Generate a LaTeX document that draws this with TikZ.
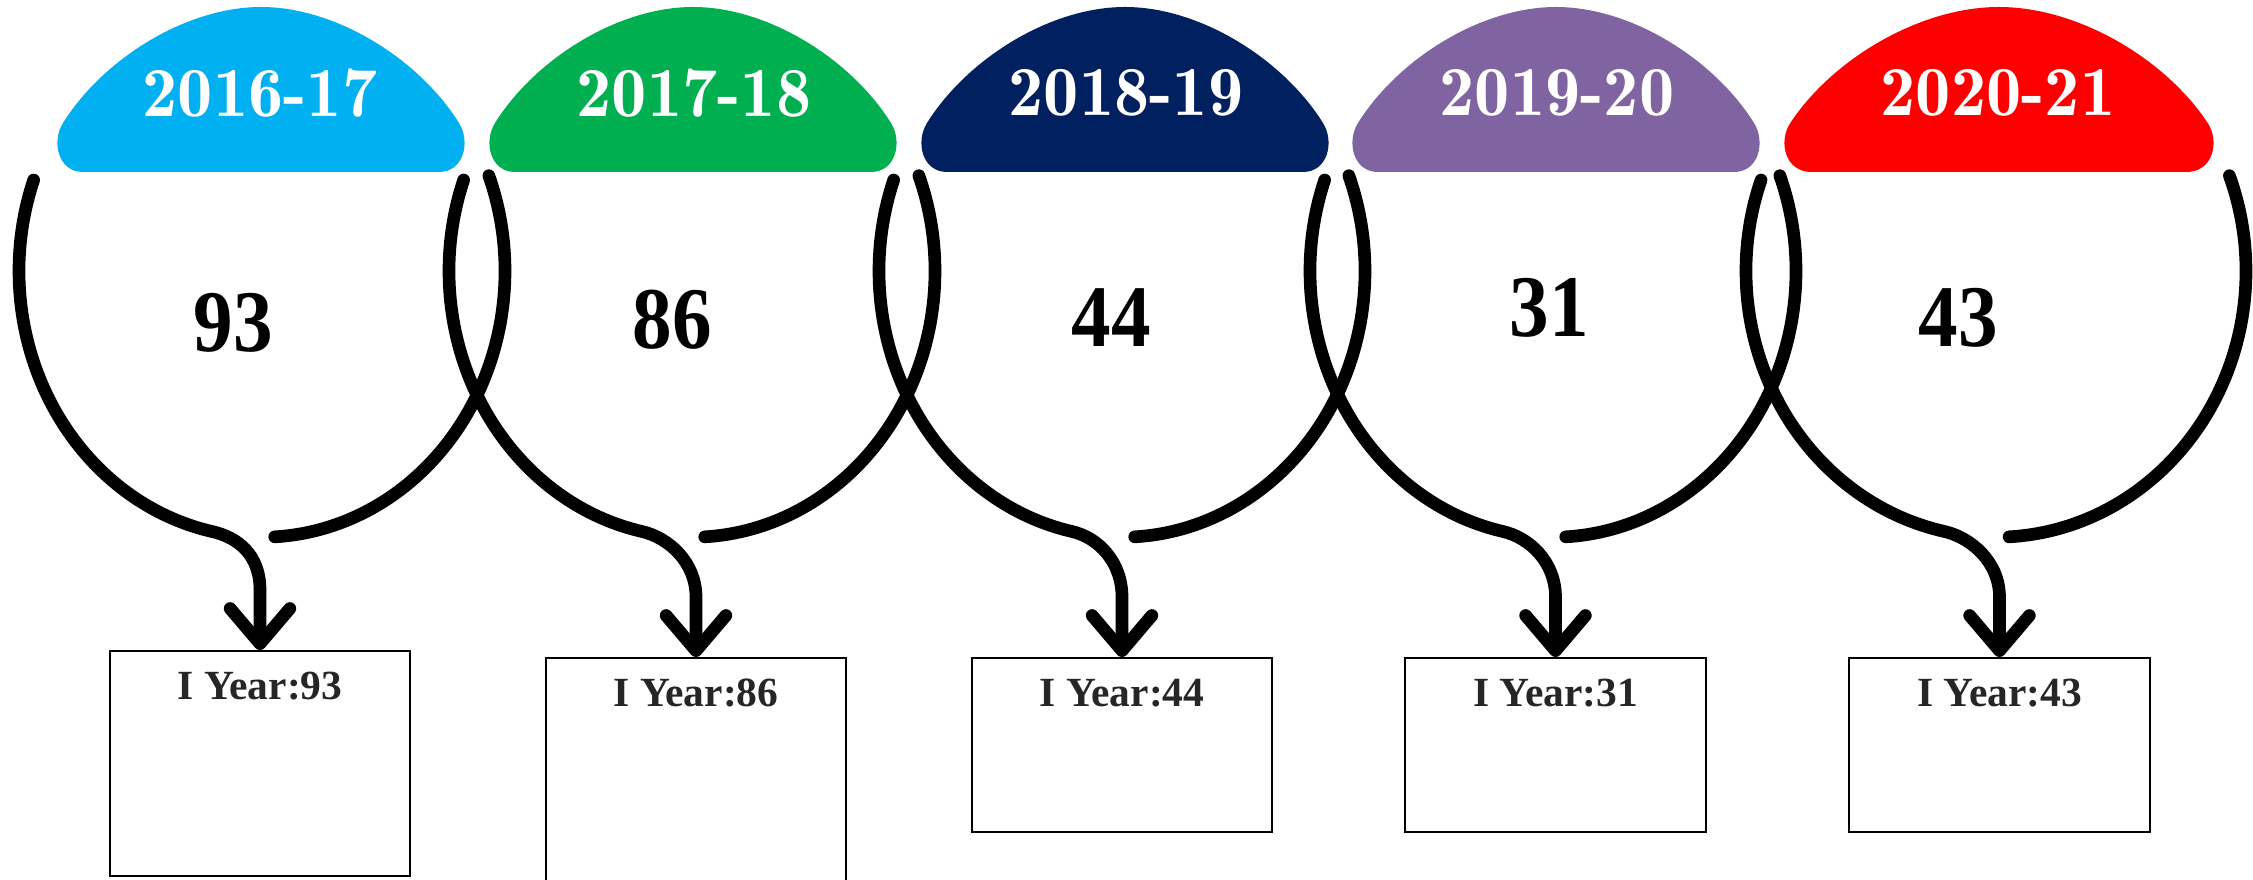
\documentclass[tikz,border=0pt]{standalone}
\usepackage{fontspec}
\newfontfamily\tnr{Liberation Serif}
\newfontfamily\yearfont{lmromandemi10-regular.otf}
\usetikzlibrary{arrows.meta,calc}
\definecolor{ycyan}{RGB}{0,176,240}
\definecolor{ygreen}{RGB}{0,176,80}
\definecolor{ynavy}{RGB}{0,32,96}
\definecolor{ypurple}{RGB}{128,100,162}
\definecolor{yred}{RGB}{255,0,0}
\newcommand\blobshape[3]{%
  \begin{scope}[shift={(#1,0)},xscale=#2]
    \fill[#3] (-178,172) .. controls (-203,172) and (-209.7,141.7) .. (-198,123)
      .. controls (-158,59) and (-75,7) .. (0,7)
      .. controls (75,7) and (158,59) .. (198,123)
      .. controls (209.7,141.7) and (203,172) .. (178,172) -- cycle;
  \end{scope}}
\newcommand\loopbranches[3]{% #1 centre x, #2 x radius (px), #3 box name
  \draw[loopline,-{Straight Barb[length=10pt,width=17pt,round]}]
    ({#1+#2*cos(160)},{271-266*sin(160)})
    arc[start angle=160,end angle=258,x radius={#2*0.01cm},y radius=2.66cm]
    .. controls +(27,6) and +(0,-35) .. ($(#3.north)+(0,-60)$) -- (#3.north);
  \draw[loopline] ({#1+#2*cos(21)},{271-266*sin(21)})
    arc[start angle=21,end angle=-87,x radius={#2*0.01cm},y radius=2.66cm];
}
\begin{document}
\begin{tikzpicture}[x=0.01cm,y=-0.01cm,
  loopline/.style={line width=3.6pt,line cap=round,line join=round},
  yearlbl/.style={text=white,font=\yearfont\fontsize{20}{24}\selectfont,inner sep=0pt},
  bignum/.style={font=\tnr\bfseries\fontsize{25}{30}\selectfont,inner sep=0pt,xscale=0.9},
  box/.style={draw,line width=0.6pt,minimum width=3cm,anchor=north,inner sep=0pt},
  boxlbl/.style={font=\tnr\bfseries\fontsize{11.8}{14}\selectfont,text=black!85,anchor=base,inner sep=0pt}]
\useasboundingbox (0,0) rectangle (2253,880);
% header blobs
\blobshape{261}{1}{ycyan}
\blobshape{693}{1}{ygreen}
\blobshape{1125}{1}{ynavy}
\blobshape{1556}{1}{ypurple}
\blobshape{1999}{1.054}{yred}
\node[yearlbl] (y1) at (260,93) {2016-17};
\node[yearlbl] (y2) at (694,93) {2017-18};
\node[yearlbl] (y3) at (1126,93) {2018-19};
\node[yearlbl] (y4) at (1557,93) {2019-20};
\node[yearlbl] (y5) at (1998,93) {2020-21};
% numbers
\node[bignum] (n1) at (233,323) {93};
\node[bignum] (n2) at (672,320) {86};
\node[bignum] (n3) at (1111,318) {44};
\node[bignum] (n4) at (1549,308) {31};
\node[bignum] (n5) at (1958,318) {43};
% boxes
\node[box,minimum height=2.25cm] (b1) at (260,650) {};
\node[box,minimum height=2.4cm] (b2) at (696,657) {};
\node[box,minimum height=1.74cm] (b3) at (1122,657) {};
\node[box,minimum height=1.74cm] (b4) at (1555.5,657) {};
\node[box,minimum height=1.74cm] (b5) at (1999.5,657) {};
\node[boxlbl] (t1) at (260,700) {I Year:93};
\node[boxlbl] (t2) at (696,707) {I Year:86};
\node[boxlbl] (t3) at (1122,707) {I Year:44};
\node[boxlbl] (t4) at (1555.5,707) {I Year:31};
\node[boxlbl] (t5) at (1999.5,707) {I Year:43};
% loops with arrows
\loopbranches{262}{243}{b1}
\loopbranches{692}{243}{b2}
\loopbranches{1122}{243}{b3}
\loopbranches{1553}{243}{b4}
\loopbranches{1996}{250}{b5}
\end{tikzpicture}
\end{document}
